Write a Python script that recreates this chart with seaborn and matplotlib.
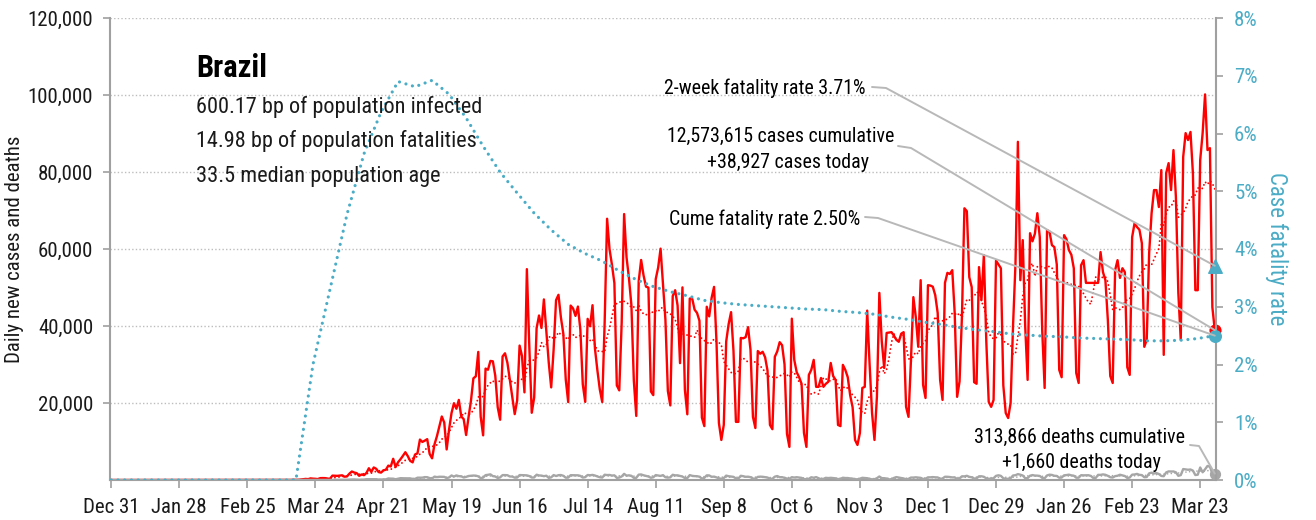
import matplotlib
matplotlib.use("Agg")
import matplotlib.pyplot as plt
import matplotlib.dates as mdates
from matplotlib import font_manager as fm
from matplotlib.lines import Line2D
import numpy as np
import pandas as pd
import seaborn as sns

# ---------------------------------------------------------------- data
country = "Brazil"
infected_bp = 600.17
fatalities_bp = 14.98
median_age = 33.5
total_cases = 12573615
total_deaths = 313866
two_week_cfr_pct = 3.71

# daily new cases, one list per calendar month
cases_2020_03 = [0, 1, 0, 1, 1, 5, 5, 6, 7, 9, 18, 25, 21, 23, 79, 34, 57, 137, 193, 283,
                 224, 418, 345, 310, 232, 482, 502, 487, 352, 323, 1138]
cases_2020_04 = [1119, 1074, 1146, 1222, 852, 926, 1661, 2210, 1930, 1781, 1089, 1442, 1261, 1832, 3058,
                 2105, 3257, 2917, 2055, 1927, 2498, 2678, 3735, 3503, 5514, 3379, 4613, 5385, 6276, 7218]
cases_2020_05 = [6209, 4970, 4588, 6633, 6935, 10503, 9888, 10222, 10611, 6760, 5632, 9258, 11385, 13944,
                 16500, 14919, 7938, 13140, 17408, 19951, 18508, 20803, 16508, 15813, 11687, 16324, 20599,
                 26417, 26928, 33274, 16409]
cases_2020_06 = [11598, 28936, 28633, 30925, 30830, 27075, 18912, 15654, 32091, 32913, 30412, 25982, 21704,
                 17110, 20647, 34918, 32188, 22765, 54771, 34666, 17459, 21432, 39436, 42725, 39483, 46907,
                 38693, 30476, 24052, 33846]
cases_2020_07 = [46712, 48105, 42223, 37923, 26051, 20229, 45305, 44571, 42619, 45048, 39023, 24831, 20286,
                 41857, 39924, 45403, 34177, 28532, 23529, 20257, 41008, 67860, 59961, 55891, 51147, 24578,
                 23284, 40816, 69074, 57837, 52383]
cases_2020_08 = [45392, 25800, 16641, 51603, 57152, 53139, 50230, 49970, 23010, 22048, 52160, 55155, 60091,
                 50644, 41576, 23101, 19373, 47784, 49298, 45323, 30355, 50032, 23421, 17064, 47134, 47161,
                 44235, 43400, 41350, 16200, 14000]
cases_2020_09 = [45000, 42500, 47300, 50163, 36000, 14800, 10400, 14300, 36000, 40500, 43600, 33500, 15100,
                 15100, 36900, 36800, 37100, 39700, 33800, 16400, 13500, 33500, 32800, 33300, 31900, 28400,
                 14300, 13200, 32000, 33400]
cases_2020_10 = [35800, 35000, 30000, 12000, 8600, 41906, 31200, 28000, 26700, 25000, 12200, 8600, 27300,
                 28600, 31200, 24200, 24200, 26500, 24200, 25000, 25500, 30400, 27000, 26000, 14300, 14000,
                 29900, 28600, 26700, 22000, 18900]
cases_2020_11 = [10400, 9100, 12200, 23900, 24200, 44000, 30000, 17400, 10400, 21600, 48600, 36000, 29100,
                 38200, 38300, 38400, 37500, 36400, 35900, 38000, 38400, 19000, 16400, 31000, 47500, 42300,
                 34600, 51900, 24700, 21300]
cases_2020_12 = [50600, 50500, 50200, 48000, 43400, 26000, 20800, 51200, 53800, 53500, 54500, 43400, 21600,
                 25600, 42900, 70574, 69826, 52700, 50100, 25400, 25000, 55300, 46700, 58400, 36000, 20300,
                 19000, 20800, 57000, 56000, 55000]
cases_2021_01 = [24600, 17400, 16100, 20000, 40000, 56000, 87843, 51900, 62300, 40000, 26000, 64100, 62000,
                 64000, 69300, 63100, 39000, 23900, 64900, 64500, 61000, 60500, 56000, 28600, 26700, 63600,
                 62500, 59700, 58500, 55000, 27800]
cases_2021_02 = [25200, 55800, 57100, 51200, 51200, 51200, 51200, 51200, 51200, 59200, 54000, 51900, 41600,
                 27000, 25200, 54500, 57100, 52500, 55000, 54000, 29300, 27300, 63100, 66700, 65700, 65000,
                 61500, 34600]
cases_2021_03 = [36400, 59000, 69300, 75300, 75300, 70900, 80500, 32500, 79700, 82300, 75300, 85700, 73500,
                 48600, 36400, 83900, 90100, 88300, 90400, 79700, 49300, 49300, 83100, 90100, 100158, 85700,
                 86200, 44900, 38927]

# daily new deaths, one list per calendar month
deaths_2020_03 = [0, 0, 0, 0, 0, 0, 0, 0, 0, 0, 0, 0, 0, 0, 0, 0, 1, 3, 2, 5, 7, 7, 9, 12, 12, 20, 15, 22,
                  22, 23, 42]
deaths_2020_04 = [40, 58, 60, 73, 54, 67, 114, 133, 141, 115, 68, 99, 105, 204, 204, 188, 217, 206, 115, 113,
                  166, 165, 407, 357, 346, 189, 338, 474, 449, 435]
deaths_2020_05 = [428, 421, 275, 296, 600, 615, 610, 751, 730, 496, 396, 881, 749, 844, 824, 816, 485, 674,
                  1179, 888, 1188, 1001, 965, 653, 807, 1039, 1086, 1156, 1124, 956, 480]
deaths_2020_06 = [623, 1262, 1349, 1473, 1005, 904, 525, 679, 1272, 1274, 1239, 909, 892, 612, 627, 1282,
                  1269, 1238, 1206, 1022, 641, 654, 1374, 1185, 1141, 990, 1109, 552, 692, 1280]
deaths_2020_07 = [1038, 1252, 1290, 1091, 602, 620, 1254, 1223, 1220, 1214, 1071, 631, 733, 1300, 1233, 1322,
                  1163, 921, 716, 632, 1367, 1284, 1311, 1156, 1211, 555, 627, 921, 1595, 1129, 1212]
deaths_2020_08 = [1088, 541, 561, 1394, 1437, 1226, 1079, 905, 572, 703, 1274, 1175, 1060, 1262, 709, 620,
                  684, 1352, 1204, 1212, 1054, 892, 494, 494, 1271, 1085, 1005, 984, 855, 366, 553]
deaths_2020_09 = [1215, 1184, 834, 874, 682, 447, 310, 504, 1136, 983, 899, 814, 415, 381, 1090, 987, 829,
                  858, 739, 377, 335, 809, 869, 831, 729, 639, 335, 317, 863, 1031]
deaths_2020_10 = [729, 728, 546, 375, 318, 734, 636, 724, 626, 552, 253, 201, 309, 716, 581, 754, 461, 230,
                  288, 571, 497, 566, 506, 432, 231, 298, 589, 510, 514, 407, 355]
deaths_2020_11 = [190, 181, 349, 571, 522, 462, 318, 144, 210, 461, 911, 486, 462, 388, 155, 217, 544, 754,
                  635, 523, 393, 188, 302, 632, 630, 698, 639, 559, 272, 317]
deaths_2020_12 = [697, 694, 755, 694, 672, 313, 376, 842, 836, 770, 672, 686, 279, 433, 964, 936, 1092, 823,
                  706, 382, 420, 963, 968, 836, 429, 314, 340, 482, 1075, 1224, 1074]
deaths_2021_01 = [462, 293, 314, 469, 1171, 1242, 1524, 1379, 1171, 469, 481, 1110, 1274, 1151, 1131, 1050,
                  551, 452, 1183, 1382, 1316, 1096, 1050, 592, 627, 1214, 1283, 1386, 1206, 1119, 595]
deaths_2021_02 = [598, 1252, 1209, 1232, 1239, 1069, 525, 520, 1340, 1330, 1452, 1351, 1082, 713, 638, 1003,
                  1105, 1367, 1212, 1033, 527, 639, 1386, 1428, 1582, 1337, 1275, 721]
deaths_2021_03 = [778, 1726, 1910, 1699, 1800, 1555, 1054, 987, 1972, 2233, 2207, 2216, 1997, 1086, 1275,
                  2841, 2736, 2659, 2724, 2438, 1290, 1383, 3251, 2009, 2777, 3650, 3438, 1656, 1660]

# cumulative case fatality rate (%), weekly on Mondays from 2020-03-16 (zero before the first death)
cfr_start = "2020-03-16"
cfr_weekly_pct = [0.0, 2.0, 3.3, 4.6, 5.65, 6.37, 6.9, 6.81, 6.92, 6.68, 6.27, 5.78, 5.33, 4.97, 4.62,
                  4.33, 4.08, 3.92, 3.79, 3.62, 3.47, 3.35, 3.26, 3.19, 3.11, 3.07, 3.04, 3.02, 3.00, 2.98,
                  2.96, 2.95, 2.92, 2.90, 2.87, 2.82, 2.78, 2.73, 2.69, 2.64, 2.60, 2.57, 2.53, 2.51, 2.49,
                  2.48, 2.46, 2.45, 2.44, 2.43, 2.41, 2.41, 2.42, 2.45, 2.50]

series_start = "2019-12-31"
series_end = "2021-03-29"

case_months = [cases_2020_03, cases_2020_04, cases_2020_05, cases_2020_06, cases_2020_07, cases_2020_08,
               cases_2020_09, cases_2020_10, cases_2020_11, cases_2020_12, cases_2021_01, cases_2021_02,
               cases_2021_03]
death_months = [deaths_2020_03, deaths_2020_04, deaths_2020_05, deaths_2020_06, deaths_2020_07,
                deaths_2020_08, deaths_2020_09, deaths_2020_10, deaths_2020_11, deaths_2020_12,
                deaths_2021_01, deaths_2021_02, deaths_2021_03]
month_starts = pd.date_range("2020-03-01", periods=len(case_months), freq="MS")
full_days = pd.date_range(series_start, series_end, freq="D")


def stitch(chunks):
    parts = []
    for start, vals in zip(month_starts, chunks):
        idx = pd.date_range(start, periods=len(vals), freq="D")
        assert idx[-1].month == start.month
        parts.append(pd.Series(vals, index=idx, dtype=float))
    return pd.concat(parts).reindex(full_days, fill_value=0.0)


cases = stitch(case_months)
deaths = stitch(death_months)
cases_avg = cases.rolling(7).mean()
deaths_avg = deaths.rolling(7).mean()

cfr_weekly = pd.Series(cfr_weekly_pct, index=pd.date_range(cfr_start, periods=len(cfr_weekly_pct), freq="7D"))
cfr = pd.concat([pd.Series([cfr_weekly.iloc[0]], index=[pd.Timestamp(series_start)]), cfr_weekly])

last_day = full_days[-1]

# ---------------------------------------------------------------- style
W, H, DPI = 1316, 520, 100
RED = "#ff0000"
GREY = "#a6a6a6"
BLUE = "#4bacc6"
AXIS = "#a0a0a0"
TEXT = "#1a1a1a"

sns.set_theme(style="white")

# prefer a narrow sans face; scale sizes to keep the text widths similar
entries = fm.fontManager.ttflist
names = {f.name for f in entries}
narrow_faces = ["Roboto Condensed", "Liberation Sans Narrow", "Arial Narrow", "Noto Sans Condensed",
                "Noto Sans SemiCondensed", "Open Sans Condensed"]
family, k = None, 1.0
for name in narrow_faces:
    if name in names:
        family, k = [name, "DejaVu Sans"], 1.0
        break
if family is None:
    condensed = [f.name for f in entries
                 if f.stretch in ("condensed", "semi-condensed", 87.5, 75) and f.name in
                 ("Noto Sans", "Open Sans", "DejaVu Sans", "Roboto")]
    if condensed:
        family, k = [condensed[0], "DejaVu Sans"], 1.0
        plt.rcParams["font.stretch"] = "condensed"
    elif "Liberation Sans" in names:
        family, k = ["Liberation Sans", "DejaVu Sans"], 0.9
    else:
        family, k = ["DejaVu Sans"], 0.8
plt.rcParams["font.family"] = family

fig = plt.figure(figsize=(W / DPI, H / DPI), dpi=DPI)
ax = fig.add_axes([110 / W, (H - 480) / H, (1216 - 110) / W, (480 - 18) / H])
ax2 = ax.twinx()

# ---------------------------------------------------------------- lines
sns.lineplot(x=cases_avg.index, y=cases_avg.values, ax=ax, color=RED, linewidth=1.4,
             linestyle=(0, (0.01, 2.1)), dash_capstyle="round", errorbar=None, zorder=3)
sns.lineplot(x=cases.index, y=cases.values, ax=ax, color=RED, linewidth=1.7, errorbar=None, zorder=4)
sns.lineplot(x=deaths_avg.index, y=deaths_avg.values, ax=ax, color=GREY, linewidth=1.2,
             linestyle=(0, (0.01, 2.2)), dash_capstyle="round", errorbar=None, zorder=3)
sns.lineplot(x=deaths.index, y=deaths.values, ax=ax, color=GREY, linewidth=1.7, errorbar=None, zorder=4)
sns.lineplot(x=cfr.index, y=cfr.values, ax=ax2, color=BLUE, linewidth=2.3,
             linestyle=(0, (0.01, 2.1)), dash_capstyle="round", errorbar=None, zorder=3)

# end-of-series markers
ax.scatter([last_day], [cases.iloc[-1]], s=60, color=RED, zorder=6, clip_on=False)
ax.scatter([last_day], [deaths.iloc[-1]], s=50, color=GREY, zorder=6, clip_on=False)
ax2.scatter([last_day], [two_week_cfr_pct], s=95, marker="^", color=BLUE, zorder=6, clip_on=False)
ax2.scatter([last_day], [cfr.iloc[-1]], s=70, color=BLUE, zorder=7, clip_on=False)

# ---------------------------------------------------------------- axes
x0 = pd.Timestamp(series_start) - pd.Timedelta(hours=12)
x1 = last_day + pd.Timedelta(hours=12)
ax.set_xlim(x0, x1)
tick_days = pd.date_range(series_start, series_end, freq="28D")
ax.set_xticks(tick_days)
ax.set_xticklabels([f"{d:%b} {d.day}" for d in tick_days])

ax.set_ylim(0, 120000)
left_ticks = np.arange(20000, 120001, 20000)
ax.set_yticks(left_ticks)
ax.set_yticklabels([f"{v:,}" for v in left_ticks])
ax2.set_ylim(0, 8)
right_ticks = np.arange(0, 9, 1)
ax2.set_yticks(right_ticks)
ax2.set_yticklabels([f"{v}%" for v in right_ticks])

ax.grid(axis="y", linestyle=(0, (1, 1.6)), color="#bdbdbd", linewidth=1.0)
ax.grid(axis="x", visible=False)
ax.set_axisbelow(True)

for a in (ax, ax2):
    a.spines["top"].set_visible(False)
ax.spines["right"].set_visible(False)
ax2.spines["left"].set_visible(False)
ax2.spines["bottom"].set_visible(False)
for sp in (ax.spines["left"], ax.spines["bottom"], ax2.spines["right"]):
    sp.set_color(AXIS)
    sp.set_linewidth(1.5)

ax.tick_params(axis="x", direction="out", length=6, width=1.2, color=AXIS, pad=7,
               labelsize=15 * k, labelcolor=TEXT, bottom=True)
ax.tick_params(axis="y", direction="out", length=5, width=1.2, color=AXIS, pad=7,
               labelsize=15 * k, labelcolor=TEXT, left=True)
ax2.tick_params(axis="y", direction="out", length=5, width=1.2, color=AXIS, pad=8,
                labelsize=15 * k, labelcolor=BLUE, right=True)

ax.set_xlabel("")
ax.set_ylabel("Daily new cases and deaths", fontsize=15 * k, color=TEXT)
ax.yaxis.set_label_coords(-0.078, 0.5)
ax2.set_ylabel("Case fatality rate", fontsize=16.5 * k, color=BLUE, rotation=270, va="bottom")
ax2.yaxis.set_label_coords(1.044, 0.5)


# ---------------------------------------------------------------- text
def px_text(x, y, s, **kw):
    fig.text(x / W, 1 - y / H, s, va="baseline", **kw)


px_text(196, 77, country, fontsize=22 * k, fontweight="bold", color="#000000")
px_text(196, 113, f"{infected_bp:.2f} bp of population infected", fontsize=16 * k, color=TEXT)
px_text(196, 147, f"{fatalities_bp:.2f} bp of population fatalities", fontsize=16 * k, color=TEXT)
px_text(196, 182, f"{median_age} median population age", fontsize=16 * k, color=TEXT)

fs = 14.3 * k
px_text(866, 94, f"2-week fatality rate {two_week_cfr_pct:.2f}%", fontsize=fs, ha="right", color="#000000")
px_text(781, 142, f"{total_cases:,} cases cumulative", fontsize=fs, ha="center", color="#000000")
px_text(788, 168, f"+{int(cases.iloc[-1]):,} cases today", fontsize=fs, ha="center", color="#000000")
px_text(860, 225, f"Cume fatality rate {cfr.iloc[-1]:.2f}%", fontsize=fs, ha="right", color="#000000")
px_text(1079, 443, f"{total_deaths:,} deaths cumulative", fontsize=fs, ha="center", color="#000000")
px_text(1081, 468, f"+{int(deaths.iloc[-1]):,} deaths today", fontsize=fs, ha="center", color="#000000")


# leader lines from labels to the end markers
def to_px(axis, x, y):
    dx, dy = axis.transData.transform((mdates.date2num(x), y))
    return dx, H - dy


def leader(p0, p1, target):
    xs = [p0[0], p1[0], target[0]]
    ys = [p0[1], p1[1], target[1]]
    fig.add_artist(Line2D([v / W for v in xs], [1 - v / H for v in ys], transform=fig.transFigure,
                          color="#b8b8b8", linewidth=1.4, zorder=2))


leader((872, 87), (886, 88), to_px(ax2, last_day, two_week_cfr_pct))
leader((898, 146), (911, 148), to_px(ax, last_day, cases.iloc[-1]))
leader((865, 217), (878, 218), to_px(ax2, last_day, cfr.iloc[-1]))
leader((1190, 445), (1199, 446), to_px(ax, last_day, deaths.iloc[-1]))

fig.savefig("out.png", dpi=DPI)
